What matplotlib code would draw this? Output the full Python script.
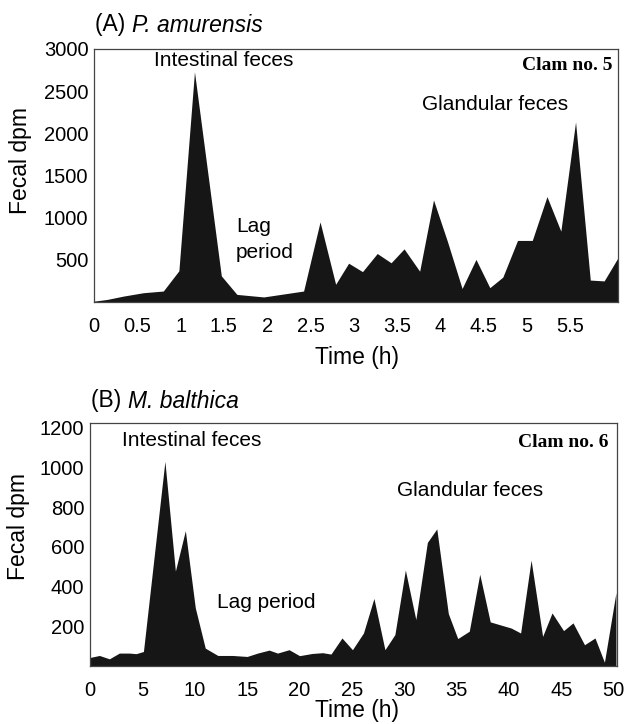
import matplotlib
matplotlib.use("Agg")
import matplotlib.pyplot as plt

# ---- data ----
time_a = [0, 0.15, 0.34, 0.57, 0.80, 0.98, 1.16, 1.47, 1.65, 1.96, 2.42, 2.61, 2.79,
          2.94, 3.10, 3.27, 3.43, 3.58, 3.76, 3.92, 4.08, 4.25, 4.41, 4.57, 4.72,
          4.89, 5.06, 5.23, 5.39, 5.56, 5.73, 5.89, 6.05]
dpm_a = [10, 30, 70, 110, 130, 370, 2730, 310, 90, 60, 130, 950, 210,
         460, 360, 575, 465, 630, 365, 1210, 720, 160, 505, 170, 295,
         730, 730, 1250, 840, 2135, 260, 250, 525]

time_b = [0, 0.9, 1.85, 2.8, 3.75, 4.4, 5.1, 7.15, 8.15, 9.1, 10.05, 11.0, 12.2, 13.6,
          15.0, 16.0, 17.1, 17.9, 19.0, 20.0, 21.2, 22.2, 23.0, 24.05, 25.05, 26.1,
          27.1, 28.15, 29.1, 30.1, 31.1, 32.2, 33.1, 34.2, 35.1, 36.2, 37.2, 38.2,
          39.1, 40.2, 41.1, 42.1, 43.2, 44.1, 45.2, 46.1, 47.2, 48.2, 49.1, 50.2]
dpm_b = [43, 53, 36, 65, 65, 62, 73, 1030, 478, 681, 293, 90, 53, 53,
         48, 65, 80, 65, 82, 52, 63, 67, 60, 141, 82, 166,
         340, 82, 158, 483, 234, 622, 690, 264, 138, 175, 462, 222,
         208, 191, 166, 533, 149, 267, 178, 217, 107, 141, 19, 369]

xticks_a = [0, 0.5, 1, 1.5, 2, 2.5, 3, 3.5, 4, 4.5, 5, 5.5]
xticklabels_a = ["0", "0.5", "1", "1.5", "2", "2.5", "3", "3.5", "4", "4.5", "5", "5.5"]
yticks_a = [500, 1000, 1500, 2000, 2500, 3000]
xticks_b = [0, 5, 10, 15, 20, 25, 30, 35, 40, 45, 50]
yticks_b = [200, 400, 600, 800, 1000, 1200]

W, H = 628, 724
plt.rcParams['font.family'] = ['Liberation Sans', 'DejaVu Sans']
fig = plt.figure(figsize=(W / 100, H / 100), dpi=100)

def fx(x):
    return x / W

def fy(y):
    return 1 - y / H

def make_axes(l, r, t, b):
    return fig.add_axes([fx(l), fy(b), (r - l) / W, (b - t) / H])

FILL = '#161616'
FS_TICK = 14.5
FS_ANN = 15
FS_LAB = 16.5

axA = make_axes(94, 618, 49, 302)
axB = make_axes(90, 617, 423, 666)

for ax in (axA, axB):
    for s in ax.spines.values():
        s.set_color('#444444')
        s.set_linewidth(0.9)
    ax.tick_params(length=0, labelsize=FS_TICK)
    ax.tick_params(axis='x', pad=11)
    ax.tick_params(axis='y', pad=4)

axA.fill_between(time_a, dpm_a, 0, color=FILL, linewidth=0)
axA.set_xlim(0, 6.05)
axA.set_ylim(0, 3000)
axA.set_xticks(xticks_a)
axA.set_xticklabels(xticklabels_a)
axA.set_yticks(yticks_a)

axB.fill_between(time_b, dpm_b, 0, color=FILL, linewidth=0)
axB.set_xlim(0, 50.3)
axB.set_ylim(0, 1223)
axB.set_xticks(xticks_b)
axB.set_yticks(yticks_b)

# axis labels
fig.text(fx(357), fy(357), "Time (h)", ha='center', va='center', fontsize=FS_LAB)
fig.text(fx(357), fy(710), "Time (h)", ha='center', va='center', fontsize=FS_LAB)
fig.text(fx(21), fy(160), "Fecal dpm", ha='center', va='center', rotation=90, fontsize=FS_LAB)
fig.text(fx(19), fy(527), "Fecal dpm", ha='center', va='center', rotation=90, fontsize=FS_LAB)

# panel titles
def panel_title(x, y, tag, name):
    t1 = fig.text(fx(x), fy(y), tag + " ", ha='left', va='center', fontsize=FS_LAB)
    fig.canvas.draw()
    bb = t1.get_window_extent()
    fig.text(bb.x1 / W, fy(y), name, ha='left', va='center', fontsize=FS_LAB, style='italic')

panel_title(95, 25, "(A)", "P. amurensis")
panel_title(91, 401, "(B)", "M. balthica")

# annotations panel A
fig.text(fx(224), fy(61), "Intestinal feces", ha='center', va='center', fontsize=FS_ANN)
fig.text(fx(236), fy(227), "Lag", ha='left', va='center', fontsize=FS_ANN)
fig.text(fx(236), fy(252), "period", ha='left', va='center', fontsize=FS_ANN)
fig.text(fx(495), fy(104), "Glandular feces", ha='center', va='center', fontsize=FS_ANN)
fig.text(fx(612), fy(66), "Clam no. 5", ha='right', va='center', fontsize=14,
         family=['Liberation Serif', 'DejaVu Serif'], weight='bold')

# annotations panel B
fig.text(fx(192), fy(440), "Intestinal feces", ha='center', va='center', fontsize=FS_ANN)
fig.text(fx(217), fy(603), "Lag period", ha='left', va='center', fontsize=FS_ANN)
fig.text(fx(470), fy(491), "Glandular feces", ha='center', va='center', fontsize=FS_ANN)
fig.text(fx(608), fy(442), "Clam no. 6", ha='right', va='center', fontsize=14,
         family=['Liberation Serif', 'DejaVu Serif'], weight='bold')

fig.savefig("out.png", dpi=100)
